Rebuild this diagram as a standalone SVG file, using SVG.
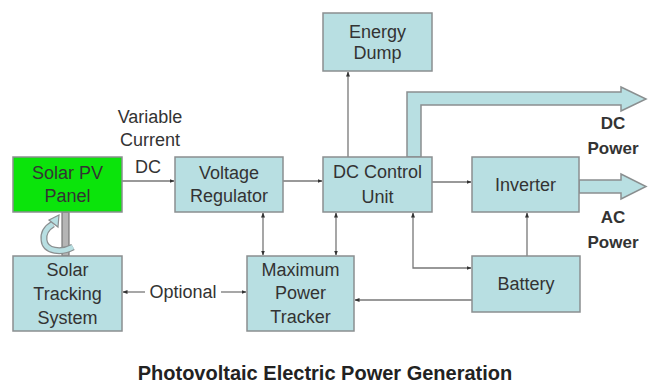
<svg xmlns="http://www.w3.org/2000/svg" width="660" height="383" viewBox="0 0 660 383">
<style>
.box{fill:#b8dfe2;stroke:#8a8f90;stroke-width:1.5}
.pv{fill:#0be40b;stroke:#8a8f90;stroke-width:1.5}
.t{font-family:"Liberation Sans",Arial,sans-serif;font-size:18px;fill:#333;text-anchor:middle}
.lb{font-family:"Liberation Sans",Arial,sans-serif;font-size:17px;fill:#333;text-anchor:middle;font-weight:bold}
.ln{fill:none;stroke:#777;stroke-width:1.3}
.blk{fill:#b8dfe2;stroke:#8a8f90;stroke-width:1.5}
</style>
<defs>
<marker id="ah" viewBox="0 0 10 10" refX="9" refY="5" markerWidth="5" markerHeight="5" orient="auto-start-reverse" markerUnits="userSpaceOnUse">
<path d="M0,1 L10,5 L0,9 Z" fill="#333"/>
</marker>
</defs>
<rect width="660" height="383" fill="#fff"/>
<g id="connectors">
<path class="ln" d="M122,181 H174" marker-end="url(#ah)"/>
<path class="ln" d="M283,181 H322" marker-end="url(#ah)"/>
<path class="ln" d="M432,182 H471" marker-end="url(#ah)"/>
<path class="ln" d="M348,157 V72" marker-end="url(#ah)"/>
<path class="ln" d="M263,213 V255" marker-start="url(#ah)" marker-end="url(#ah)"/>
<path class="ln" d="M336,213 V255" marker-start="url(#ah)" marker-end="url(#ah)"/>
<path class="ln" d="M413,213 V268 H471" marker-start="url(#ah)" marker-end="url(#ah)"/>
<path class="ln" d="M472,300 H355" marker-end="url(#ah)"/>
<path class="ln" d="M527,256 V213" marker-end="url(#ah)"/>
<path class="ln" d="M145,292 H123" marker-end="url(#ah)"/>
<path class="ln" d="M221,292 H246" marker-end="url(#ah)"/>
<text class="t" x="183" y="298">Optional</text>
<path class="blk" d="M407,157 V92 H621 V87 L646,99 L621,111 V105 H421 V157 Z"/>
<path class="blk" d="M579,180 H621 V174 L646,186.5 L621,199 V193 H579 Z"/>
<rect x="62" y="212" width="7" height="44" fill="#b5b5b5" stroke="#777" stroke-width="1.2"/>
<path d="M73,247 C62,253 45,252 44,240 C43,232 48,227 53,224" fill="none" stroke="#8a8f90" stroke-width="7"/>
<path d="M73,247 C62,253 45,252 44,240 C43,232 48,227 53,224" fill="none" stroke="#b8dfe2" stroke-width="4.5"/>
<path d="M49,220 L59,215 L58,227 Z" fill="#b8dfe2" stroke="#8a8f90" stroke-width="1.2"/>
</g>
<g id="labels">
<text class="t" x="150" y="123">Variable</text>
<text class="t" x="150" y="146">Current</text>
<text class="t" x="148" y="173">DC</text>
<text class="lb" x="613" y="129">DC</text>
<text class="lb" x="613" y="154">Power</text>
<text class="lb" x="613" y="223">AC</text>
<text class="lb" x="613" y="248">Power</text>
</g>
<g id="solar-pv-panel">
<rect class="pv" x="13" y="157" width="109" height="55"/>
<text class="t" x="67.5" y="179">Solar PV</text>
<text class="t" x="67.5" y="202">Panel</text>
</g>
<g id="voltage-regulator">
<rect class="box" x="175" y="157" width="108" height="55"/>
<text class="t" x="229" y="179">Voltage</text>
<text class="t" x="229" y="202">Regulator</text>
</g>
<g id="dc-control-unit">
<rect class="box" x="323" y="157" width="109" height="55"/>
<text class="t" x="377.5" y="178">DC Control</text>
<text class="t" x="377.5" y="203">Unit</text>
</g>
<g id="energy-dump">
<rect class="box" x="323" y="13" width="109" height="58"/>
<text class="t" x="377.5" y="38">Energy</text>
<text class="t" x="377.5" y="59">Dump</text>
</g>
<g id="inverter">
<rect class="box" x="472" y="157" width="107" height="55"/>
<text class="t" x="525.5" y="191">Inverter</text>
</g>
<g id="solar-tracking-system">
<rect class="box" x="13" y="256" width="109" height="75"/>
<text class="t" x="67.5" y="276">Solar</text>
<text class="t" x="67.5" y="300">Tracking</text>
<text class="t" x="67.5" y="324">System</text>
</g>
<g id="maximum-power-tracker">
<rect class="box" x="247" y="256" width="107" height="75"/>
<text class="t" x="300.5" y="276">Maximum</text>
<text class="t" x="300.5" y="299">Power</text>
<text class="t" x="300.5" y="323">Tracker</text>
</g>
<g id="battery">
<rect class="box" x="472" y="256" width="108" height="56"/>
<text class="t" x="526" y="290">Battery</text>
</g>
<text x="325" y="380" font-family="'Liberation Sans',Arial,sans-serif" font-size="20" font-weight="bold" fill="#222" text-anchor="middle">Photovoltaic Electric Power Generation</text>
</svg>
